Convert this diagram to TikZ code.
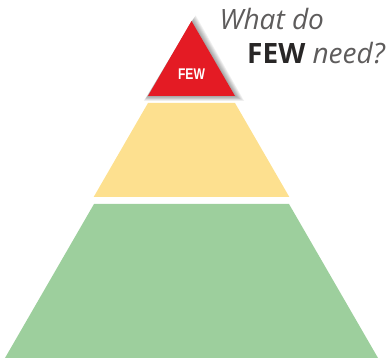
\documentclass[tikz,border=0pt]{standalone}
\usepackage{fontspec}
\setmainfont{Open Sans}
\newfontfamily\labelfont{Liberation Sans}
\usetikzlibrary{calc}
\definecolor{fewred}{RGB}{228,27,36}
\definecolor{somegold}{RGB}{253,224,143}
\definecolor{manygreen}{RGB}{157,207,157}
\definecolor{asktext}{RGB}{40,38,38}

\begin{document}
\begin{tikzpicture}[x=1pt,y=-1pt]
    \pgfmathsetmacro{\xmid}{191.5}
    \pgfmathsetmacro{\slope}{0.578}
    \useasboundingbox (0,0) rectangle (391,358);
    % Define points: top edge y, bottom edge y and top half width of each layer
    \foreach \name/\ytop/\ybot/\wtop in {G/204/358/97.5,Y/103/197/43.5} {
        \pgfmathsetmacro{\wbot}{\wtop+(\ybot-\ytop)*\slope}
        \coordinate (\name tl) at (\xmid-\wtop,\ytop);
        \coordinate (\name tr) at (\xmid+\wtop,\ytop);
        \coordinate (\name br) at (\xmid+\wbot,\ybot);
        \coordinate (\name bl) at (\xmid-\wbot,\ybot);
    }
    \coordinate (apex) at (\xmid,21);
    \coordinate (Rbl) at (\xmid-43.5,96);
    \coordinate (Rbr) at (\xmid+43.5,96);
    % Draw the two lower layers
    \fill[manygreen] (Gtl) -- (Gtr) -- (Gbr) -- (Gbl) -- cycle;
    \fill[somegold] (Ytl) -- (Ytr) -- (Ybr) -- (Ybl) -- cycle;
    % Soft shadow behind the top
    \foreach \s in {1,...,7} {
        \fill[black,opacity=0.06] ($(apex)+(0.6*\s,-0.8*\s)$)
            -- ($(Rbr)+(1.3*\s,0.7*\s)$) -- ($(Rbl)+(-0.6*\s,0.7*\s)$) -- cycle;
    }
    \fill[fewred] (apex) -- (Rbr) -- (Rbl) -- cycle;
    \node[text=white,inner sep=0pt] (few) at (\xmid,74)
        {\labelfont\bfseries\fontsize{15.5}{15}\selectfont\scalebox{0.78}[1]{FEW}};

    % Question beside the pyramid
    \node[anchor=base west,inner sep=0pt,text=asktext!75!white] (ask) at (219.5,30)
        {\fontsize{28}{30}\selectfont\itshape What do};
    \node[anchor=base west,inner sep=0pt,text=asktext] (need) at (247,64)
        {\fontsize{28}{30}\selectfont\textbf{FEW} {\color{asktext!75!white}\itshape need?}};
\end{tikzpicture}
\end{document}
